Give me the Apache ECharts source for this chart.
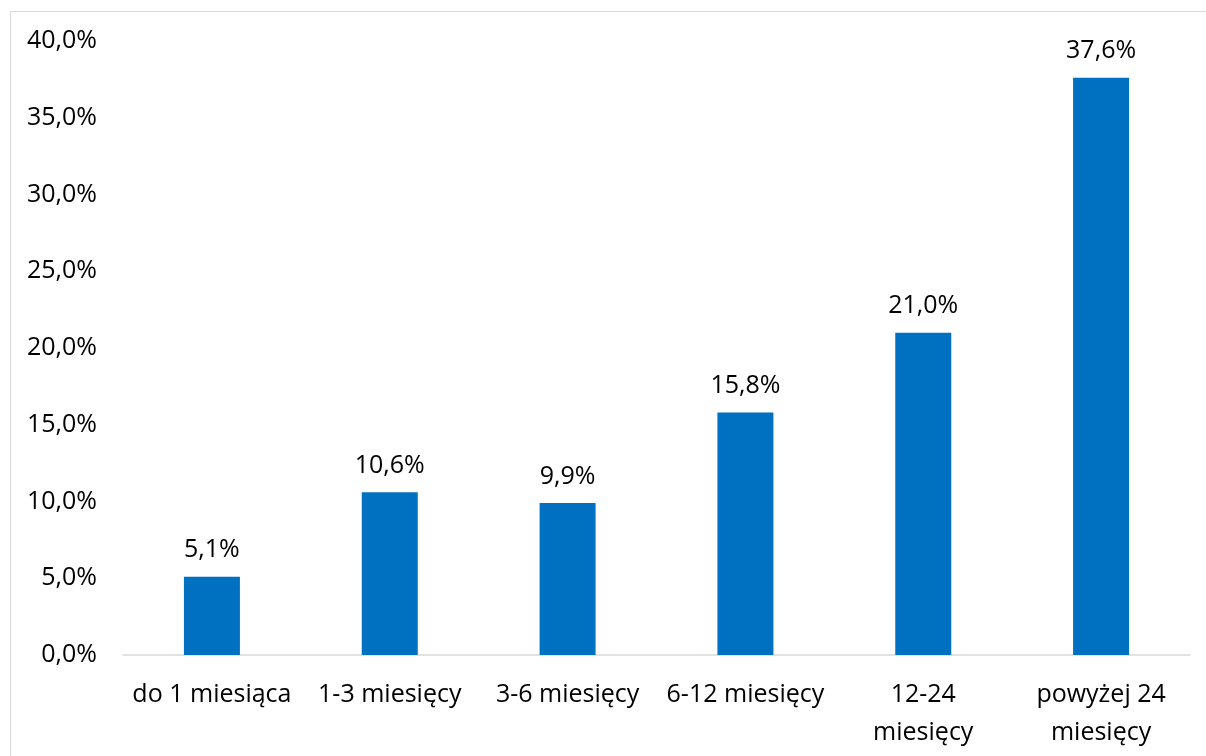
<!DOCTYPE html>
<html>
<head>
<meta charset="utf-8">
<script src="https://cdn.jsdelivr.net/npm/echarts@6/dist/echarts.min.js"></script>
<style>
  html, body { margin: 0; padding: 0; overflow: hidden; background: #fff; }
  #chart { position: absolute; left: 0; top: 0; width: 1206px; height: 756px; }
  .frame {
    position: absolute; left: 10px; top: 11px;
    width: 1300px; height: 900px;
    border: 1px solid #d9d9d9;
    pointer-events: none;
  }
</style>
</head>
<body>
<div id="chart"></div>
<div class="frame"></div>
<script>
  // kategorie i udziały (%)
  var categories = ['do 1 miesiąca', '1-3 miesięcy', '3-6 miesięcy', '6-12 miesięcy', '12-24\nmiesięcy', 'powyżej 24\nmiesięcy'];
  var shares = [5.1, 10.6, 9.9, 15.8, 21.0, 37.6];

  function pct(v) {
    return v.toFixed(1).replace('.', ',') + '%';
  }

  var chart = echarts.init(document.getElementById('chart'));
  chart.setOption({
    animation: false,
    textStyle: { fontFamily: 'Open Sans' },
    grid: { left: 123, right: 16, top: 41, bottom: 101 },
    xAxis: {
      type: 'category',
      data: categories,
      axisLine: { lineStyle: { color: '#d9d9d9', width: 1.5 } },
      axisTick: { show: false },
      axisLabel: {
        color: '#000', fontSize: 25, margin: 21,
        lineHeight: 38, interval: 0
      }
    },
    yAxis: {
      type: 'value',
      min: 0, max: 40, interval: 5,
      splitLine: { show: false },
      axisLine: { show: false },
      axisTick: { show: false },
      axisLabel: {
        color: '#000', fontSize: 25, margin: 26,
        formatter: function (v) { return pct(v); }
      }
    },
    series: [{
      type: 'bar',
      data: shares,
      barWidth: 56,
      itemStyle: { color: '#0070C0' },
      label: {
        show: true, position: 'top', distance: 14,
        color: '#000', fontSize: 25,
        formatter: function (p) { return pct(p.value); }
      }
    }]
  });
</script>
</body>
</html>
